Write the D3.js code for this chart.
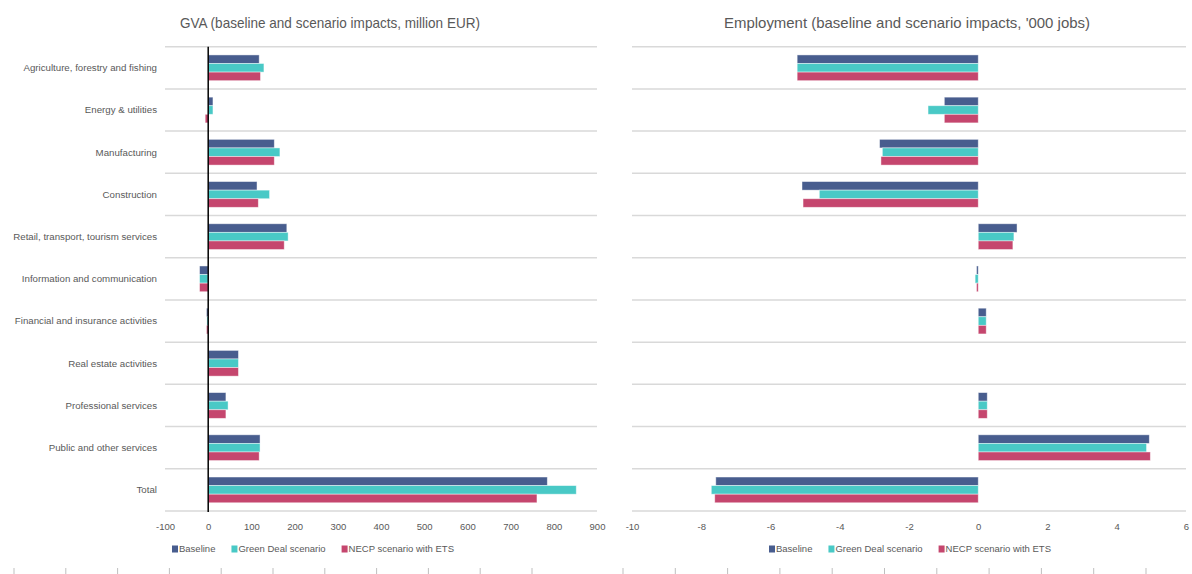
<!DOCTYPE html>
<html><head><meta charset="utf-8">
<script src="https://cdn.jsdelivr.net/npm/d3@7"></script>
<style>body{margin:0;background:#fff;overflow:hidden}text{font-family:"Liberation Sans",Arial,sans-serif}</style>
</head><body>
<svg id="c" width="1192" height="574"></svg>
<script>
const categories = ["Agriculture, forestry and fishing","Energy & utilities","Manufacturing","Construction","Retail, transport, tourism services","Information and communication","Financial and insurance activities","Real estate activities","Professional services","Public and other services","Total"];
const seriesNames = ["Baseline","Green Deal scenario","NECP scenario with ETS"];
const seriesColors = ["#485D8E","#49C9C6","#C5466E"];
const gvaBaseline  = [118, 11, 153, 113, 182, -20, -4, 70, 41, 120, 785];
const gvaGreenDeal = [129, 11, 166, 142, 185, -20, -3, 70, 46, 120, 852];
const gvaNecp      = [121, -7, 153, 116, 176, -20, -4, 70, 41, 118, 761];
const empBaseline  = [-5.23, -0.98, -2.85, -5.09, 1.12, -0.05, 0.23, 0, 0.26, 4.94, -7.58];
const empGreenDeal = [-5.23, -1.45, -2.77, -4.59, 1.03, -0.09, 0.23, 0, 0.26, 4.86, -7.71];
const empNecp      = [-5.23, -0.98, -2.81, -5.06, 1.00, -0.05, 0.23, 0, 0.26, 4.97, -7.61];
const gvaTicks = [-100, 0, 100, 200, 300, 400, 500, 600, 700, 800, 900];
const empTicks = [-10, -8, -6, -4, -2, 0, 2, 4, 6];
const gvaTitle = "GVA (baseline and scenario impacts, million EUR)";
const empTitle = "Employment (baseline and scenario impacts, '000 jobs)";

const svg = d3.select("#c");
const textCol = "#595959";
const gridCol = "#d9d9d9";
const y = d3.scaleBand().domain(categories).range([46.7, 511]).padding(0);
const bw = y.bandwidth();
const ys = d3.scaleBand().domain(seriesNames).range([bw*0.195, bw*0.805]).padding(0);

function panel(opt){
  const x = d3.scaleLinear().domain(opt.domain).range(opt.range);
  const g = svg.append("g");
  // title
  const tt = g.append("text").attr("x", opt.titleX).attr("y", 28).attr("text-anchor","middle")
    .attr("font-size", 15).attr("fill", textCol).text(opt.title);
  if (opt.titleW) tt.attr("textLength", opt.titleW).attr("lengthAdjust", "spacingAndGlyphs");
  // gridlines at band boundaries
  const bounds = categories.map(c => y(c)).concat([y(categories[categories.length-1]) + bw]);
  g.selectAll("line.grid").data(bounds).join("line")
    .attr("x1", opt.range[0]).attr("x2", opt.range[1])
    .attr("y1", d => d).attr("y2", d => d)
    .attr("stroke", gridCol).attr("stroke-width", 1.5);
  // bars
  const data = [];
  categories.forEach((c,i)=>{
    opt.series.forEach((s,j)=>{ data.push({c, s: seriesNames[j], v: s[i], col: seriesColors[j]}); });
  });
  g.selectAll("rect.bar").data(data.filter(d=>d.v!==0)).join("rect")
    .attr("x", d => Math.min(x(0), x(d.v)))
    .attr("width", d => Math.abs(x(d.v) - x(0)))
    .attr("y", d => y(d.c) + ys(d.s))
    .attr("height", ys.bandwidth())
    .attr("fill", d => d.col)
    .attr("stroke", "rgba(255,255,255,0.55)").attr("stroke-width", 0.8);
  if (opt.zeroLine){
    g.append("line").attr("x1", x(0)).attr("x2", x(0)).attr("y1", 46.7).attr("y2", 512)
      .attr("stroke", "#000").attr("stroke-width", 1.5);
  }
  // x axis labels
  const ax = g.append("g").attr("transform", "translate(0,511)")
    .call(d3.axisBottom(x).tickValues(opt.ticks).tickSize(0).tickPadding(12).tickFormat(d => String(d)));
  ax.select(".domain").remove();
  ax.selectAll("text").attr("font-size", 9.5).attr("fill", textCol).attr("font-family", null);
  // category labels
  if (opt.labels){
    g.selectAll("text.cat").data(categories).join("text")
      .attr("x", 157).attr("y", d => y(d) + bw/2).attr("dy", "0.35em")
      .attr("text-anchor", "end").attr("font-size", 9.7).attr("fill", textCol).text(d => d);
  }
  // legend
  const lg = g.append("g").attr("transform", `translate(${opt.legendX},549)`);
  let off = 0;
  seriesNames.forEach((n,j)=>{
    lg.append("rect").attr("x", off).attr("y", -3.5).attr("width", 6).attr("height", 7).attr("fill", seriesColors[j]);
    const t = lg.append("text").attr("x", off+7).attr("y", 0).attr("dy","0.35em")
      .attr("font-size", 9.5).attr("fill", textCol).text(n);
    off += t.node().getComputedTextLength() + 23;
  });
}

panel({domain:[-100,900], range:[165,597], ticks:gvaTicks, series:[gvaBaseline,gvaGreenDeal,gvaNecp],
  title:gvaTitle, titleX:330, titleW:300, zeroLine:true, labels:true, legendX:172});
panel({domain:[-10,6], range:[632,1186], ticks:empTicks, series:[empBaseline,empGreenDeal,empNecp],
  title:empTitle, titleX:907, titleW:366, zeroLine:false, labels:false, legendX:769});

// decorative tick marks along the bottom edge
const markX = d3.range(0, 11).map(i => 14 + i*51.8).concat(d3.range(0, 11).map(i => 623 + i*52.3));
svg.selectAll("line.mark").data(markX).join("line")
  .attr("x1", d => d).attr("x2", d => d).attr("y1", 568).attr("y2", 574)
  .attr("stroke", "#bfbfbf").attr("stroke-width", 1);
</script>
</body></html>
